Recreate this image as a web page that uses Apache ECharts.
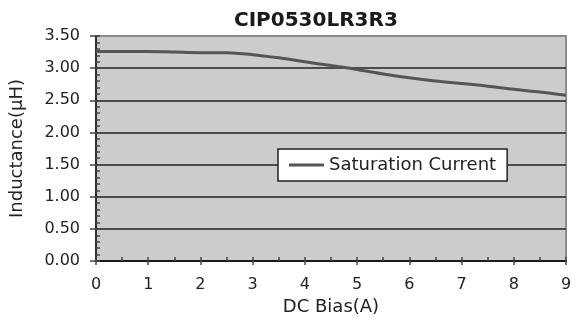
<!DOCTYPE html>
<html>
<head>
<meta charset="utf-8">
<script src="https://cdn.jsdelivr.net/npm/echarts@6/dist/echarts.min.js"></script>
<style>
  html, body { margin: 0; padding: 0; background: #fff; }
  #chart { width: 578px; height: 321px; }
</style>
</head>
<body>
<div id="chart"></div>
<script>
// DC bias (A) vs inductance (uH)
const biasA = [0, 0.5, 1, 1.5, 2, 2.5, 3, 3.5, 4, 4.5, 5, 5.5, 6, 6.5, 7, 7.5, 8, 8.5, 9];
const inductance = [3.26, 3.26, 3.26, 3.25, 3.24, 3.24, 3.21, 3.16, 3.10, 3.04, 2.98, 2.91, 2.85, 2.80, 2.76, 2.72, 2.67, 2.63, 2.58];
const seriesName = 'Saturation Current';
const title = 'CIP0530LR3R3';

const font = 'DejaVu Sans';
const chart = echarts.init(document.getElementById('chart'), null, { renderer: 'canvas' });

const xBase = { type: 'value', min: 0, max: 9, interval: 1, position: 'bottom' };
const yBase = { type: 'value', min: 0, max: 3.5, interval: 0.5, position: 'left' };

chart.setOption({
  animation: false,
  textStyle: { fontFamily: font },
  title: {
    text: title,
    left: 229,
    top: 6,
    textStyle: { fontFamily: font, fontSize: 20, fontWeight: 'bold', color: '#1a1a1a' },
  },
  legend: {
    left: 278,
    top: 149,
    padding: [7, 11],
    backgroundColor: '#fff',
    borderColor: '#222',
    borderWidth: 1.5,
    borderRadius: 0,
    icon: 'rect',
    itemWidth: 35,
    itemHeight: 3,
    textStyle: { fontFamily: font, fontSize: 18, color: '#222' },
    data: [seriesName],
  },
  grid: {
    left: 96,
    right: 12,
    top: 36,
    bottom: 60,
    show: true,
    backgroundColor: '#cccccc',
    borderColor: '#8c8c8c',
    borderWidth: 2,
  },
  xAxis: [
    Object.assign({}, xBase, {
      name: 'DC Bias(A)',
      nameLocation: 'middle',
      nameGap: 27,
      nameTextStyle: { fontFamily: font, fontSize: 18, color: '#222' },
      axisLine: { lineStyle: { color: '#111', width: 1.5 } },
      axisTick: { length: 4, lineStyle: { color: '#444', width: 1.5 } },
      axisLabel: { fontFamily: font, fontSize: 16, color: '#222', margin: 16 },
      splitLine: { show: false },
    }),
    // overlay axis: ticks on the inner side
    Object.assign({}, xBase, {
      axisLine: { show: false },
      axisTick: { inside: true, length: 4, lineStyle: { color: '#444', width: 1.5 } },
      minorTick: { show: true, splitNumber: 2, length: 4, lineStyle: { color: '#444', width: 1.5 } },
      axisLabel: { show: false },
      splitLine: { show: false },
    }),
  ],
  yAxis: [
    Object.assign({}, yBase, {
      name: 'Inductance(μH)',
      nameLocation: 'middle',
      nameGap: 70,
      nameTextStyle: { fontFamily: font, fontSize: 18, color: '#222' },
      axisLine: { show: true, lineStyle: { color: '#111', width: 1.5 } },
      axisTick: { show: true, length: 6, lineStyle: { color: '#444', width: 1.5 } },
      axisLabel: {
        fontFamily: font, fontSize: 16, color: '#222', margin: 16,
        formatter: (v) => v.toFixed(2),
      },
      splitLine: { show: true, showMaxLine: false, lineStyle: { color: '#222', width: 1.5 } },
    }),
    Object.assign({}, yBase, {
      axisLine: { show: false },
      axisTick: { show: true, inside: true, length: 4, lineStyle: { color: '#444', width: 1.5 } },
      minorTick: { show: true, splitNumber: 5, length: 4, lineStyle: { color: '#444', width: 1.5 } },
      axisLabel: { show: false },
      splitLine: { show: false },
    }),
  ],
  series: [{
    name: seriesName,
    type: 'line',
    xAxisIndex: 0,
    yAxisIndex: 0,
    smooth: 0.3,
    showSymbol: false,
    symbol: 'none',
    lineStyle: { color: '#555', width: 3 },
    itemStyle: { color: '#555' },
    data: biasA.map((x, i) => [x, inductance[i]]),
  }],
});
</script>
</body>
</html>
